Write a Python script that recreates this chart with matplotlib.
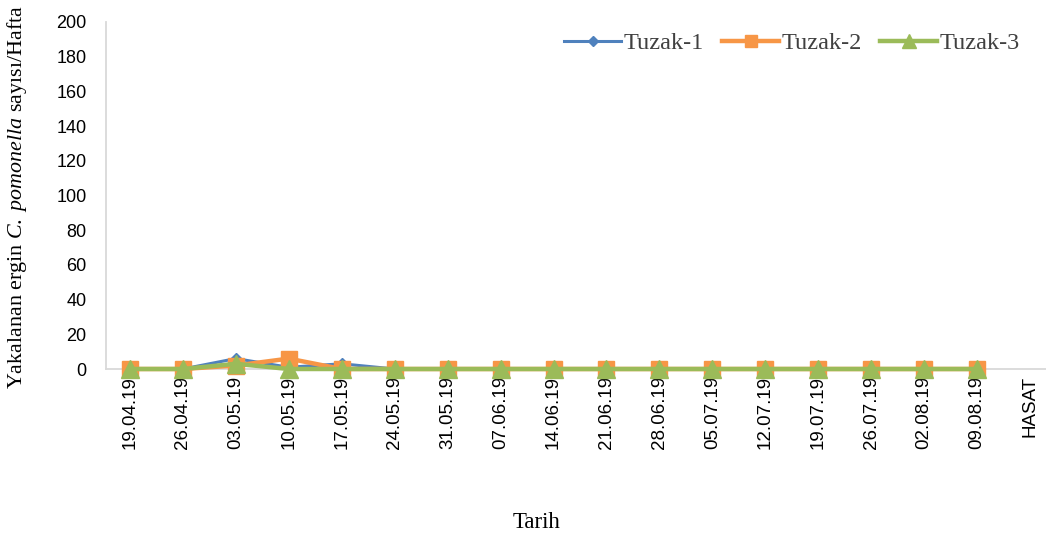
import matplotlib
matplotlib.use("Agg")
import matplotlib.pyplot as plt

# Weekly trap catches of adult codling moth
dates = ["19.04.19", "26.04.19", "03.05.19", "10.05.19", "17.05.19", "24.05.19",
         "31.05.19", "07.06.19", "14.06.19", "21.06.19", "28.06.19", "05.07.19",
         "12.07.19", "19.07.19", "26.07.19", "02.08.19", "09.08.19", "HASAT"]
tuzak1 = [0, 0, 6, 1, 3, 0, 0, 0, 0, 0, 0, 0, 0, 0, 0, 0, 0]
tuzak2 = [0, 0, 2, 6, 0, 0, 0, 0, 0, 0, 0, 0, 0, 0, 0, 0, 0]
tuzak3 = [0, 0, 3, 0, 0, 0, 0, 0, 0, 0, 0, 0, 0, 0, 0, 0, 0]
yticks = list(range(0, 201, 20))

plt.rcParams["mathtext.fontset"] = "custom"
plt.rcParams["mathtext.rm"] = "Liberation Serif"
plt.rcParams["mathtext.it"] = "Liberation Serif:italic"

W, H = 1046, 538
fig = plt.figure(figsize=(W / 100, H / 100), dpi=100)
left, right, bottom, top = 106, 1054, 369, 22
ax = fig.add_axes([left / W, 1 - bottom / H, (right - left) / W, (bottom - top) / H])

x = list(range(len(tuzak1)))
ax.plot(x, tuzak1, color="#4F81BD", lw=2.2, marker="D", ms=6.5, label="Tuzak-1", zorder=3)
ax.plot(x, tuzak2, color="#F79646", lw=3.2, marker="s", ms=11.5, label="Tuzak-2", zorder=4)
ax.plot(x, tuzak3, color="#9BBB59", lw=3.2, marker="^", ms=13, label="Tuzak-3", zorder=5)

ax.set_xlim(-0.45, len(dates) - 0.55)
ax.set_ylim(0, 200)
ax.set_yticks(yticks)
ax.set_xticks(range(len(dates)))
ax.set_xticklabels(dates, rotation=90, fontfamily="Liberation Sans", fontsize=13.5)
ax.set_yticklabels([str(v) for v in yticks], fontfamily="Liberation Sans", fontsize=13)
ax.tick_params(axis="x", length=0, pad=5, colors="#000000")
ax.tick_params(axis="y", length=0, pad=14, colors="#000000")

for side in ("top", "right"):
    ax.spines[side].set_visible(False)
for side in ("left", "bottom"):
    ax.spines[side].set_color("#d9d9d9")
    ax.spines[side].set_linewidth(1.3)
for ln in ax.lines:
    ln.set_clip_on(False)

fig.text(17 / W, 1 - 197 / H,
         r"Yakalanan ergin $\mathit{C.\ pomonella}$ sayısı/Hafta",
         fontfamily="Liberation Serif", fontsize=15.8, rotation=90,
         ha="center", va="center")
fig.text(537 / W, 1 - 522 / H, "Tarih", fontfamily="Liberation Serif",
         fontsize=16.5, ha="center", va="center")

leg = ax.legend(loc="upper right", bbox_to_anchor=(1020 / W, 1 - 32 / H),
                bbox_transform=fig.transFigure, ncol=3, frameon=False,
                prop={"family": "Liberation Serif", "size": 17.5},
                handlelength=2.35, handletextpad=0.1, columnspacing=0.75,
                markerscale=0.75, borderpad=0, borderaxespad=0,
                labelcolor="#404040")

fig.savefig("out.png", dpi=100)
